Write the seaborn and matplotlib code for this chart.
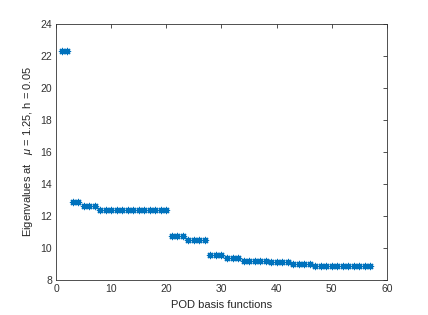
import numpy as np
import pandas as pd
import seaborn as sns
import matplotlib
matplotlib.use("Agg")
import matplotlib.pyplot as plt

# eigenvalue groups (index 1..57)
group_sizes = [2, 2, 3, 13, 3, 4, 3, 3, 5, 2, 2, 4, 11]
group_values = [22.28, 12.9, 12.6, 12.4, 10.77, 10.5, 9.54, 9.4, 9.2, 9.15, 9.1, 8.98, 8.9]

eigenvalues = np.repeat(group_values, group_sizes)
basis_index = np.arange(1, len(eigenvalues) + 1)

x_ticks = [0, 10, 20, 30, 40, 50, 60]
y_ticks = [8, 10, 12, 14, 16, 18, 20, 22, 24]

df = pd.DataFrame({"basis": basis_index, "eig": eigenvalues})

sns.set_style("white")
plt.rcParams['font.family'] = ['Liberation Sans', 'DejaVu Sans']
plt.rcParams['mathtext.fontset'] = 'custom'
plt.rcParams['mathtext.it'] = 'Liberation Sans:italic'

fig = plt.figure(figsize=(4.28, 3.15), dpi=100)
ax = fig.add_axes([0.131, 0.111, 0.773, 0.813])

sns.scatterplot(data=df, x="basis", y="eig", marker=(8, 2, 0), color="#0072BD",
                s=20, linewidth=0.9, edgecolor="#0072BD", ax=ax, legend=False)

ax.set_xlim(0, 60)
ax.set_ylim(8, 24)
ax.set_xticks(x_ticks)
ax.set_yticks(y_ticks)
ax.tick_params(direction="in", length=3, width=0.6, colors="#333333", labelsize=7.5,
               top=True, right=True, pad=3)
for s in ax.spines.values():
    s.set_color("#333333")
    s.set_linewidth(0.6)

ax.set_xlabel("POD basis functions", fontsize=8, color="#262626")
ax.set_ylabel(r"Eigenvalues at   $\mu$ = 1.25, h = 0.05", fontsize=8, color="#262626")

fig.savefig("out.png", dpi=100)
